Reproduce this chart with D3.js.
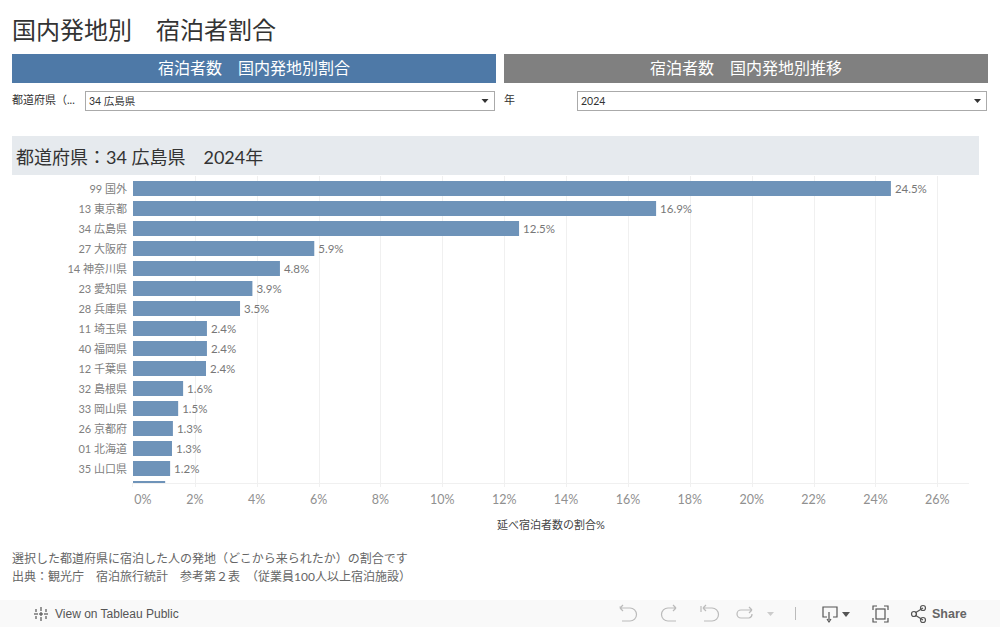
<!DOCTYPE html>
<html lang="ja"><head><meta charset="utf-8">
<script src="https://cdn.jsdelivr.net/npm/d3@7"></script>
<style>html,body{margin:0;padding:0;background:#fff;overflow:hidden}svg{display:block}text{font-family:Lato,"Noto Sans CJK JP",sans-serif}</style>
</head><body><svg id="c" width="1000" height="627"></svg>
<script>
const categories=["99 国外","13 東京都","34 広島県","27 大阪府","14 神奈川県","23 愛知県","28 兵庫県","11 埼玉県","40 福岡県","12 千葉県","32 島根県","33 岡山県","26 京都府","01 北海道","35 山口県","(次の行)"];
const shares=[24.5,16.91,12.48,5.86,4.75,3.86,3.46,2.39,2.39,2.36,1.62,1.46,1.29,1.26,1.2,1.04];
const tickValues=[0,2,4,6,8,10,12,14,16,18,20,22,24,26];
const title="国内発地別　宿泊者割合";
const tabs=["宿泊者数　国内発地別割合","宿泊者数　国内発地別推移"];
const subtitle="都道府県：34 広島県　2024年";
const axisTitle="延べ宿泊者数の割合%";
const notes=["選択した都道府県に宿泊した人の発地（どこから来られたか）の割合です","出典：観光庁　宿泊旅行統計　参考第２表　（従業員100人以上宿泊施設）"];

const svg=d3.select("#c");
const T=(x,y,s,size,fill,anchor="start",extra={})=>{const t=svg.append("text").attr("x",x).attr("y",y).attr("font-size",size).attr("fill",fill).attr("text-anchor",anchor).text(s);Object.entries(extra).forEach(([k,v])=>t.attr(k,v));return t;};
const R=(x,y,w,h,fill,stroke)=>svg.append("rect").attr("x",x).attr("y",y).attr("width",w).attr("height",h).attr("fill",fill).attr("stroke",stroke||"none");

T(12,39,title,24,"#333");
R(12,54,484,29,"#4e79a7");R(504,54,484,29,"#808080");
T(254,74,tabs[0],16,"#fff","middle");T(746,74,tabs[1],16,"#fff","middle");

T(12,104,"都道府県（...",11,"#333");
R(85.5,91.5,409,19,"#fff","#aaa");T(89,105,"34 広島県",10.5,"#333");
svg.append("path").attr("d","M481.5 99h7l-3.5 4z").attr("fill","#333");
T(504,104,"年",11,"#333");
R(577.5,91.5,409,19,"#fff","#aaa");T(581,105,"2024",10.5,"#333");
svg.append("path").attr("d","M974 99h7l-3.5 4z").attr("fill","#333");

R(12,136,967,39,"#e6eaee");
T(16,164,subtitle,18,"#333");

// chart
const x=d3.scaleLinear().domain([0,26]).range([133,937.3]);
const y=d3.scaleBand().domain(categories).range([178.5,498.5]).paddingInner(0.25).paddingOuter(0.125);
svg.append("defs").append("clipPath").attr("id","pane").append("rect").attr("x",0).attr("y",176).attr("width",1000).attr("height",307);

svg.append("g").selectAll("line").data(tickValues.slice(1)).join("line")
 .attr("x1",d=>Math.round(x(d))+.5).attr("x2",d=>Math.round(x(d))+.5).attr("y1",176).attr("y2",487).attr("stroke","#f0f0f0");
const pane=svg.append("g").attr("clip-path","url(#pane)");
pane.selectAll("rect").data(categories).join("rect")
 .attr("x",x(0)).attr("y",d=>y(d)).attr("width",(d,i)=>x(shares[i])-x(0)).attr("height",y.bandwidth()).attr("fill","#6e93b9");
pane.selectAll("text.v").data(categories).join("text").attr("class","v")
 .attr("x",(d,i)=>x(shares[i])+4).attr("y",d=>y(d)+y.bandwidth()/2+4.5).attr("font-size",11.5).attr("fill","#777")
 .text((d,i)=>d3.format(".1f")(shares[i])+"%");
pane.selectAll("text.c").data(categories).join("text").attr("class","c")
 .attr("x",127).attr("y",d=>y(d)+y.bandwidth()/2+4.5).attr("font-size",11).attr("fill","#808080").attr("text-anchor","end").text(d=>d);

svg.append("line").attr("x1",133).attr("x2",969).attr("y1",483.5).attr("y2",483.5).attr("stroke","#f0f0f0");
svg.append("line").attr("x1",132.5).attr("x2",132.5).attr("y1",483).attr("y2",487).attr("stroke","#f0f0f0");
svg.append("g").selectAll("text").data(tickValues).join("text")
 .attr("x",d=>d===0?143:x(d)).attr("y",504).attr("text-anchor","middle").attr("font-size",12.5).attr("fill","#909090").text(d=>d+"%");
T(551,529,axisTitle,11,"#444","middle");

T(12,563,notes[0],12,"#666");T(12,581,notes[1],12,"#666");

// toolbar
R(0,600,1000,27,"#f9f9f9");
const ico=svg.append("g").attr("fill","none").attr("stroke","#bbb").attr("stroke-width",1.2);
ico.append("path").attr("d","M621 607l-1.5 0 0 0M620 608h10a6 6 0 0 1 0 13h-8M620 608l3-3M620 608l3 3");
ico.append("path").attr("d","M676 608h-8a6 6 0 0 0 0 13h8M676 608l-3-3M676 608l-3 3");
ico.append("path").attr("d","M701 606v6M703 608h9a6 6 0 0 1 0 13h-8M703 608l3-3M703 608l3 3");
ico.append("path").attr("d","M752 610h-11a4 4 0 0 0 0 8h8a4 4 0 0 0 3-4M752 610l-3-3M752 610l-3 3");
svg.append("path").attr("d","M767 612h7l-3.500 4z").attr("fill","#ccc");
svg.append("line").attr("x1",795.5).attr("x2",795.5).attr("y1",607).attr("y2",620).attr("stroke","#bbb");
const dark=svg.append("g").attr("fill","none").attr("stroke","#555").attr("stroke-width",1.2);
dark.append("path").attr("d","M827 617h-4v-10h14v10h-4M829 612v8M827 619l2 3 2-3");
svg.append("path").attr("d","M842 612h8l-4 5z").attr("fill","#555");
dark.append("path").attr("d","M873 610v-4h4M884 606h4v4M888 618v4h-4M877 622h-4v-4");
dark.append("rect").attr("x",876).attr("y",609).attr("width",9).attr("height",10);
dark.append("path").attr("d","M915 613l8-5M915 615l8 5");
dark.selectAll("circle").data([[914,614],[923,608],[923,620]]).join("circle").attr("cx",d=>d[0]).attr("cy",d=>d[1]).attr("r",2.5);
T(932,618,"Share",12.500,"#666","start",{"font-weight":600,"style":"font-family:'Liberation Sans',sans-serif"});
T(55,618,"View on Tableau Public",12,"#555","start",{"style":"font-family:'Liberation Sans',sans-serif"});
const tb=svg.append("g").attr("stroke","#555").attr("stroke-width",1.2);
[[41,607,41,611],[41,617,41,621],[34,614,38,614],[44,614,48,614],[36,609,36,612],[46,609,46,612],[36,616,36,619],[46,616,46,619],[39,614,43,614],[41,612,41,616]].forEach(a=>tb.append("line").attr("x1",a[0]).attr("y1",a[1]).attr("x2",a[2]).attr("y2",a[3]));
</script></body></html>
